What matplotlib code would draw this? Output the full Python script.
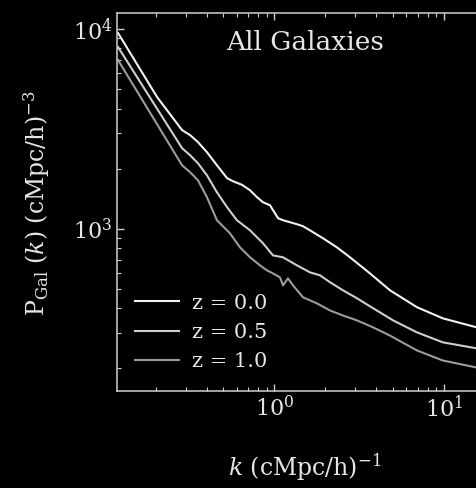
import matplotlib
matplotlib.use("Agg")
import matplotlib.pyplot as plt

plt.rcParams['font.family'] = ['DejaVu Serif']
plt.rcParams['mathtext.fontset'] = 'dejavuserif'

# Data
k_z0 = [0.120, 0.204, 0.286, 0.319, 0.355, 0.401, 0.459, 0.527, 0.571, 0.645,
        0.719, 0.791, 0.858, 0.943, 1.052, 1.125, 1.360, 1.476, 1.623, 1.938,
        2.34, 2.793, 3.663, 4.806, 6.93, 9.86, 15.6]
p_z0 = [9550, 4560, 3120, 2944, 2715, 2418, 2080, 1792, 1730, 1660,
        1560, 1439, 1358, 1312, 1130, 1104, 1054, 1030, 982, 896,
        807, 720, 598, 492, 405, 356, 321]

k_z05 = [0.120, 0.286, 0.319, 0.355, 0.401, 0.459, 0.527, 0.602, 0.719, 0.858,
         0.982, 1.125, 1.360, 1.623, 1.859, 2.13, 2.54, 3.07, 3.663, 5.01,
         6.93, 9.86, 15.6]
p_z05 = [8125, 2533, 2335, 2128, 1854, 1524, 1282, 1104, 983, 846,
         736, 720, 656, 605, 585, 540, 492, 449, 409, 348,
         303, 270, 252]

k_z1 = [0.120, 0.286, 0.319, 0.355, 0.401, 0.459, 0.548, 0.628, 0.719, 0.824,
        0.906, 0.982, 1.081, 1.125, 1.204, 1.289, 1.476, 1.786, 2.13, 2.54,
        3.07, 3.82, 4.806, 6.93, 9.86, 15.6]
p_z1 = [6994, 2080, 1919, 1750, 1439, 1104, 949, 807, 720, 656,
        619, 598, 571, 521, 565, 521, 454, 423, 390, 368,
        348, 321, 292, 246, 219, 202]

labels = ["z = 0.0", "z = 0.5", "z = 1.0"]
colors = ["#f2f2f2", "#cfcfcf", "#9c9c9c"]

fig = plt.figure(figsize=(4.77, 4.88), dpi=100)
fig.patch.set_facecolor('black')
ax = fig.add_axes([0.2459, 0.1994, 0.792, 0.7733])
ax.set_facecolor('black')

for kk, pp, lab, c in zip([k_z0, k_z05, k_z1], [p_z0, p_z05, p_z1], labels, colors):
    ax.plot(kk, pp, color=c, lw=1.5, label=lab)

ax.set_xscale('log')
ax.set_yscale('log')
ax.set_xlim(0.1188, 20)
ax.set_ylim(154.7, 11985)

for s in ax.spines.values():
    s.set_color('#d0d0d0')
    s.set_linewidth(1.1)

ax.tick_params(which='both', direction='in', colors='#d0d0d0', top=True, right=True,
               labelcolor='#e6e6e6')
ax.tick_params(which='major', length=5, width=1, labelsize=16)
ax.tick_params(which='minor', length=3, width=0.8)

fig.text(305/477, 1 - 467/488, r'$k$ (cMpc/h)$^{-1}$', ha='center', va='center',
         fontsize=17, color='#e6e6e6')
fig.text(37/477, 1 - 203/488, r'P$_{\mathrm{Gal}}$ $(k)$ (cMpc/h)$^{-3}$', ha='center',
         va='center', rotation=90, fontsize=17, color='#e6e6e6')
fig.text(305/477, 1 - 43/488, 'All Galaxies', ha='center', va='center',
         fontsize=19, color='#e6e6e6')

leg = ax.legend(loc='lower left', frameon=False, fontsize=15, handlelength=2.1,
                handletextpad=0.65, labelspacing=0.5, borderaxespad=0,
                bbox_to_anchor=(0.025, 0.029))
for t in leg.get_texts():
    t.set_color('#e6e6e6')

fig.savefig('out.png', dpi=100, facecolor='black')
